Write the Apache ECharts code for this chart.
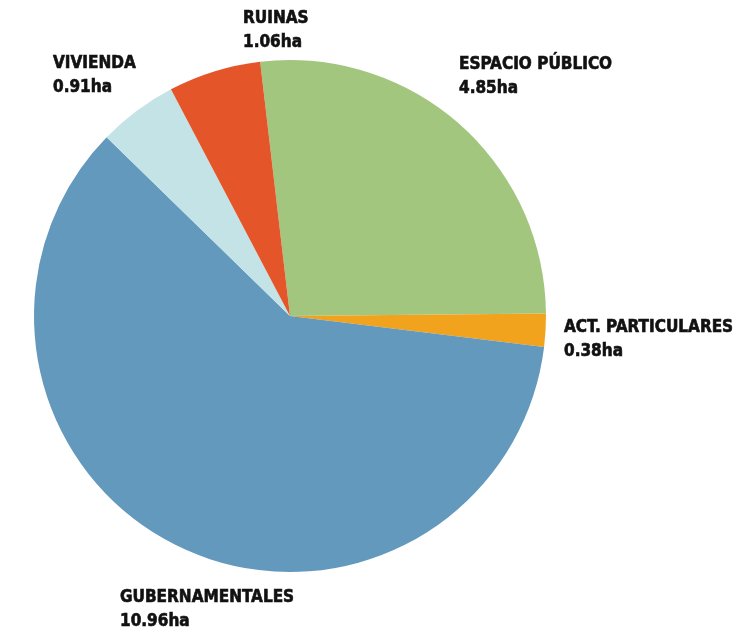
<!DOCTYPE html>
<html>
<head>
<meta charset="utf-8">
<script src="https://cdn.jsdelivr.net/npm/echarts@6/dist/echarts.min.js"></script>
<style>
  html, body { margin: 0; padding: 0; background: #fff; }
  #chart { width: 741px; height: 638px; }
</style>
</head>
<body>
<div id="chart"></div>
<script>
// superficie por uso (ha), en orden horario desde arriba
var categories = ['ESPACIO PÚBLICO', 'ACT. PARTICULARES', 'GUBERNAMENTALES', 'VIVIENDA', 'RUINAS'];
var values = [4.85, 0.38, 10.96, 0.91, 1.06];
var colors = ['#a3c67f', '#f2a31e', '#6399bd', '#c3e3e7', '#e4552a'];

// posicion de cada etiqueta (esquina sup. izq.)
var labelPos = [[459, 53], [564, 316], [120, 586], [53, 52], [243, 7]];

var pieData = [];
for (var i = 0; i < categories.length; i++) {
    pieData.push({ name: categories[i], value: values[i], itemStyle: { color: colors[i] } });
}

var myChart = echarts.init(document.getElementById('chart'));
myChart.setOption({
    animation: false,
    series: [
        {
            type: 'pie',
            center: [290, 316],
            radius: 256,
            startAngle: 96.7,
            clockwise: true,
            avoidLabelOverlap: false,
            data: pieData,
            label: {
                show: true,
                position: 'outside',
                formatter: '{b}\n{c}ha',
                color: '#111',
                fontFamily: '"DejaVu Sans Condensed", "DejaVu Sans", sans-serif',
                fontWeight: 'bold',
                fontSize: 17,
                lineHeight: 24,
                textBorderColor: '#111',
                textBorderWidth: 0.6,
                align: 'left'
            },
            labelLine: { show: false },
            labelLayout: function (params) {
                var p = labelPos[params.dataIndex];
                return { x: p[0], y: p[1], align: 'left', verticalAlign: 'top', moveOverlap: false };
            },
            emphasis: { disabled: true }
        }
    ]
});
</script>
</body>
</html>
